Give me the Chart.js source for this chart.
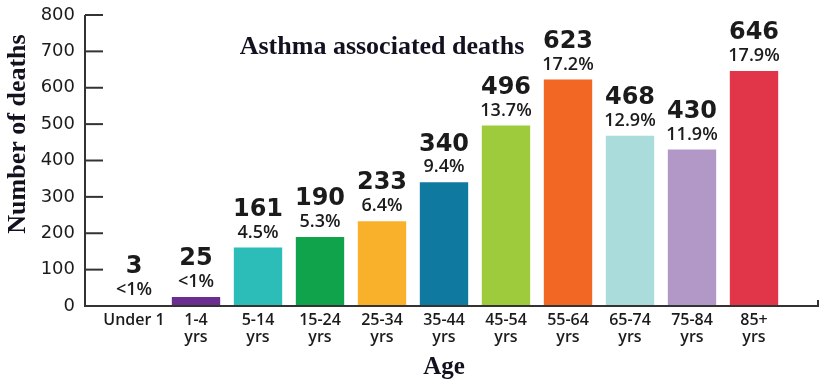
<!DOCTYPE html>
<html lang="en">
<head>
  <meta charset="UTF-8" />
  <title>Asthma associated deaths</title>
  <script src="https://cdn.jsdelivr.net/npm/chart.js"></script>
  <style>
    html, body { margin: 0; padding: 0; background: #fff; }
    canvas { display: block; }
  </style>
</head>
<body>
  <canvas id="asthmaChart" width="829" height="392"></canvas>

  <script>
    const ageGroups = [
      ['Under 1'], ['1-4', 'yrs'], ['5-14', 'yrs'], ['15-24', 'yrs'],
      ['25-34', 'yrs'], ['35-44', 'yrs'], ['45-54', 'yrs'], ['55-64', 'yrs'],
      ['65-74', 'yrs'], ['75-84', 'yrs'], ['85+', 'yrs']
    ];
    const deaths = [3, 25, 161, 190, 233, 340, 496, 623, 468, 430, 646];
    const shares = ['<1%', '<1%', '4.5%', '5.3%', '6.4%', '9.4%', '13.7%', '17.2%', '12.9%', '11.9%', '17.9%'];
    const barColors = [
      '#8c9a6e', '#6b2d90', '#2cbdb9', '#10a34c', '#f9b12b', '#10799f',
      '#9ecb3b', '#f26723', '#abdcdc', '#b198c6', '#e13549'
    ];

    const serif = '"Liberation Serif", "Times New Roman", serif';
    const inkSerif = '#11111f';
    const ink = '#1b1b1b';

    // axis lines, inner ticks, headings and the two-line value labels
    const decorations = {
      id: 'decorations',
      afterDatasetsDraw(chart) {
        const ctx = chart.ctx;
        const y = chart.scales.y;
        const axisX = 85;
        const zeroY = y.getPixelForValue(0);

        ctx.save();
        ctx.strokeStyle = '#333';
        ctx.lineWidth = 2;
        ctx.beginPath();
        ctx.moveTo(axisX, y.getPixelForValue(800));
        ctx.lineTo(axisX, zeroY);
        ctx.lineTo(818, zeroY);
        ctx.lineTo(818, zeroY - 6);
        ctx.stroke();

        y.ticks.forEach(t => {
          const py = y.getPixelForValue(t.value);
          ctx.beginPath();
          ctx.moveTo(axisX, py);
          ctx.lineTo(103, py);
          ctx.stroke();
        });

        ctx.fillStyle = inkSerif;
        ctx.textAlign = 'center';
        ctx.textBaseline = 'middle';
        ctx.font = 'bold 26px ' + serif;
        ctx.fillText('Asthma associated deaths', 382, 47);

        ctx.save();
        ctx.translate(18, 134);
        ctx.rotate(-Math.PI / 2);
        ctx.fillText('Number of deaths', 0, 0);
        ctx.restore();

        const meta = chart.getDatasetMeta(0);
        meta.data.forEach((bar, i) => {
          ctx.fillStyle = ink;
          ctx.font = 'bold 24px "DejaVu Sans", sans-serif';
          ctx.fillText(String(deaths[i]), bar.x, bar.y - 38);
          ctx.font = '600 18px "Open Sans", sans-serif';
          ctx.fillText(shares[i], bar.x, bar.y - 15);
        });
        ctx.restore();
      }
    };

    new Chart(document.getElementById('asthmaChart'), {
      type: 'bar',
      data: {
        labels: ageGroups,
        datasets: [{
          data: deaths,
          backgroundColor: barColors,
          borderWidth: 0,
          barPercentage: 0.78,
          categoryPercentage: 1
        }]
      },
      options: {
        responsive: false,
        animation: false,
        layout: { padding: { top: 15, right: 44, left: 0, bottom: 0 } },
        plugins: {
          legend: { display: false },
          tooltip: { enabled: false }
        },
        scales: {
          x: {
            grid: { display: false, drawTicks: false },
            border: { display: false },
            ticks: {
              color: ink,
              padding: 6,
              maxRotation: 0,
              autoSkip: false,
              font: { family: '"Open Sans", sans-serif', size: 16, weight: '600', lineHeight: 1.08 }
            },
            title: {
              display: true,
              text: 'Age',
              color: inkSerif,
              padding: { bottom: 9 },
              font: { family: serif, size: 25, weight: 'bold', lineHeight: 1.2 }
            },
            afterFit(scale) { scale.height = 86; }
          },
          y: {
            min: 0,
            max: 800,
            grid: {
              color: 'transparent',
              drawOnChartArea: false,
              drawTicks: true,
              tickLength: 28
            },
            border: { display: false },
            ticks: {
              stepSize: 100,
              color: ink,
              padding: 0,
              font: { family: '"DejaVu Sans", sans-serif', size: 18 }
            },
            afterFit(scale) { scale.width = 103; }
          }
        }
      },
      plugins: [decorations]
    });
  </script>
</body>
</html>
